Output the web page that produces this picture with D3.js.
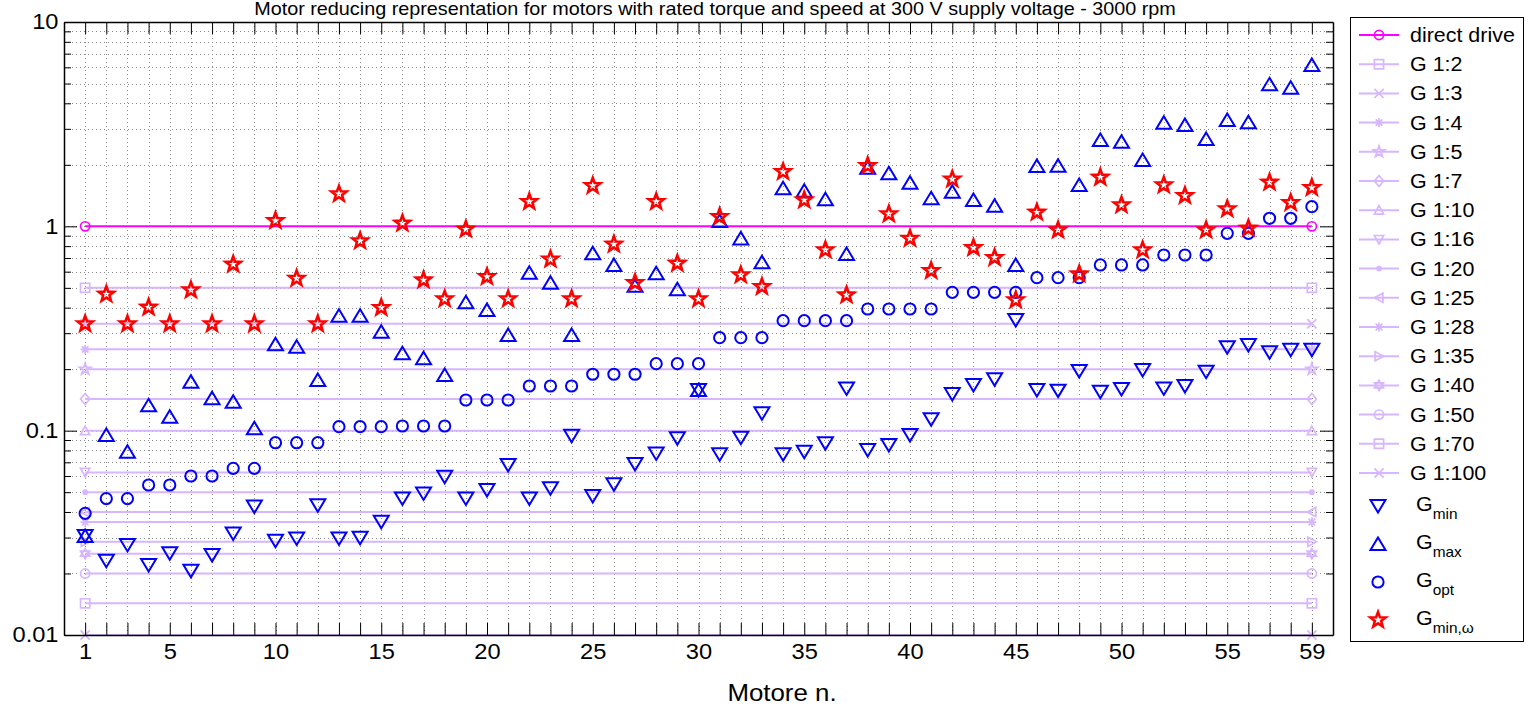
<!DOCTYPE html>
<html>
<head>
<meta charset="utf-8">
<script src="https://cdn.jsdelivr.net/npm/d3@7"></script>
<style>
  html, body { margin: 0; padding: 0; background: #fff; }
  svg { display: block; font-family: "Liberation Sans", Arial, Helvetica, sans-serif; }
</style>
</head>
<body>
<svg id="chart" width="1534" height="708"></svg>
<script>
// ---- data -------------------------------------------------------------
const motors = [1,2,3,4,5,6,7,8,9,10,11,12,13,14,15,16,17,18,19,20,
  21,22,23,24,25,26,27,28,29,30,31,32,33,34,35,36,37,38,39,40,
  41,42,43,44,45,46,47,48,49,50,51,52,53,54,55,56,57,58,59];

// reduction ratios drawn as horizontal reference lines (value = 1/ratio)
const gearRatios = [1, 2, 3, 4, 5, 7, 10, 16, 20, 25, 28, 35, 40, 50, 70, 100];
const gearLabels = ["direct drive", "G 1:2", "G 1:3", "G 1:4", "G 1:5", "G 1:7", "G 1:10",
  "G 1:16", "G 1:20", "G 1:25", "G 1:28", "G 1:35", "G 1:40", "G 1:50", "G 1:70", "G 1:100"];
const gearMarkers = ["circle", "square", "x", "asterisk", "pentagram", "diamond", "triUp",
  "triDown", "point", "triLeft", "asterisk", "triRight", "hexagram", "circle", "square", "x"];
const gearSpan = [1, 59];

const gMin = [0.0305,0.0231,0.0276,0.0220,0.0251,0.0206,0.0246,0.0314,0.0425,0.0289,
  0.0297,0.0431,0.0297,0.0299,0.0358,0.0466,0.0493,0.0595,0.0466,0.0512,
  0.0679,0.0466,0.0522,0.0945,0.0479,0.0546,0.0687,0.0774,0.0917,0.158,
  0.0766,0.0924,0.1216,0.0767,0.0789,0.0867,0.161,0.0804,0.0851,0.0953,
  0.1136,0.1512,0.1674,0.1783,0.348,0.158,0.157,0.196,0.155,0.160,
  0.198,0.161,0.1654,0.1944,0.2558,0.2626,0.2417,0.2487,0.2487];

const gMax = [0.0305,0.0953,0.0789,0.133,0.117,0.1737,0.144,0.1386,0.1027,0.2646,
  0.2576,0.177,0.365,0.365,0.305,0.2391,0.226,0.1873,0.4247,0.3895,
  0.2938,0.593,0.530,0.2938,0.738,0.647,0.5124,0.589,0.492,0.158,
  1.062,0.873,0.667,1.535,1.495,1.356,0.732,1.936,1.817,1.636,
  1.371,1.478,1.345,1.262,0.647,1.973,1.98,1.593,2.645,2.596,
  2.112,3.216,3.133,2.676,3.314,3.23,4.953,4.77,6.16];

const gOpt = [0.0394,0.0465,0.0465,0.0542,0.0542,0.060,0.060,0.0654,0.0654,0.0873,
  0.0873,0.0873,0.1046,0.1046,0.1046,0.1054,0.1054,0.1054,0.1413,0.1413,
  0.1413,0.1654,0.1654,0.1654,0.1888,0.1888,0.1888,0.2128,0.2128,0.2128,
  0.2851,0.2851,0.2851,0.3455,0.3455,0.3455,0.3455,0.394,0.394,0.394,
  0.394,0.4754,0.4754,0.4754,0.4754,0.5605,0.5605,0.5605,0.647,0.647,
  0.647,0.724,0.724,0.724,0.924,0.924,1.095,1.095,1.248];

const gMinOmega = [0.333,0.465,0.333,0.4015,0.333,0.488,0.333,0.652,0.333,1.066,
  0.556,0.333,1.44,0.848,0.40,1.035,0.546,0.441,0.967,0.567,
  0.441,1.32,0.69,0.441,1.58,0.817,0.530,1.32,0.659,0.441,
  1.115,0.578,0.507,1.85,1.345,0.766,0.461,1.98,1.149,0.873,
  0.607,1.70,0.786,0.703,0.436,1.171,0.959,0.584,1.737,1.272,
  0.766,1.593,1.413,0.959,1.216,0.978,1.642,1.305,1.546];

const xTickLabels = [1, 5, 10, 15, 20, 25, 30, 35, 40, 45, 50, 55, 59];
const yMajorTicks = [0.01, 0.1, 1, 10];
const yTickLabels = ["0.01", "0.1", "1", "10"];

const titleText = "Motor reducing representation for motors with rated torque and speed at 300 V supply voltage - 3000 rpm";
const xAxisTitle = "Motore n.";

// ---- layout -----------------------------------------------------------
const plot = { left: 64, right: 1333, top: 22, bottom: 635 };
const FONT = 19.5;            // legend text
const AXIS_FONT = 21.5;       // tick labels
const LABEL_FONT = 23.5;      // axis label
const STRETCH = 1.1;          // horizontal text stretch
const LINE_COLOR = "#d7b6ff";
const DIRECT_COLOR = "#ff00ff";
const BLUE = "#0000ff";
const RED = "#ff0000";

const svg = d3.select("#chart");
svg.append("rect").attr("width", 1534).attr("height", 708).attr("fill", "#fff");

const x = d3.scaleLinear().domain([0, 60]).range([plot.left, plot.right]);
const y = d3.scaleLog().domain([0.01, 10]).range([plot.bottom, plot.top]);

// minor tick values of the log axis (2..9 of each decade)
const yMinor = [];
[0.01, 0.1, 1].forEach(d => { for (let m = 2; m <= 9; m++) yMinor.push(+(d * m).toPrecision(3)); });

// text placed at (px, py) and stretched horizontally around its anchor
function stretchedText(parent, px, py, anchor) {
  return parent.append("g").attr("transform", `translate(${px},${py}) scale(${STRETCH},1)`)
    .append("text").attr("text-anchor", anchor || "start")
    .attr("font-size", FONT).attr("fill", "#000");
}

// ---- marker shapes ----------------------------------------------------
function starPoints(n, ro, ri, rot) {
  const pts = [];
  for (let i = 0; i < 2 * n; i++) {
    const r = i % 2 === 0 ? ro : ri;
    const a = rot + i * Math.PI / n;
    pts.push([r * Math.sin(a), -r * Math.cos(a)]);
  }
  return "M" + pts.map(p => p[0].toFixed(2) + "," + p[1].toFixed(2)).join("L") + "Z";
}
function markerPath(type, s) {
  switch (type) {
    case "circle": return `M${s},0A${s},${s} 0 1,1 ${-s},0A${s},${s} 0 1,1 ${s},0Z`;
    case "square": return `M${-s},${-s}H${s}V${s}H${-s}Z`;
    case "x": return `M${-s},${-s}L${s},${s}M${-s},${s}L${s},${-s}`;
    case "asterisk": {
      const d = s * 0.72;
      return `M0,${-s}V${s}M${-s},0H${s}M${-d},${-d}L${d},${d}M${-d},${d}L${d},${-d}`;
    }
    case "pentagram": return starPoints(5, s * 1.3, s * 0.5, 0);
    case "diamond": return `M0,${-s * 1.2}L${s},0L0,${s * 1.2}L${-s},0Z`;
    case "triUp": return `M0,${-s}L${s},${s * 0.85}L${-s},${s * 0.85}Z`;
    case "triDown": return `M0,${s}L${s},${-s * 0.85}L${-s},${-s * 0.85}Z`;
    case "triLeft": return `M${-s},0L${s * 0.85},${-s}L${s * 0.85},${s}Z`;
    case "triRight": return `M${s},0L${-s * 0.85},${-s}L${-s * 0.85},${s}Z`;
    case "hexagram": return `M0,${-s * 1.1}L${s},${s * 0.55}L${-s},${s * 0.55}Z` +
                            `M0,${s * 1.1}L${s},${-s * 0.55}L${-s},${-s * 0.55}Z`;
    case "point": return `M${s * 0.45},0A${s * 0.45},${s * 0.45} 0 1,1 ${-s * 0.45},0A${s * 0.45},${s * 0.45} 0 1,1 ${s * 0.45},0Z`;
  }
  return "";
}
// big scatter markers
const bigTriUp = `M0,-6.5L7.5,6L-7.5,6Z`;
const bigTriDown = `M0,6.5L7.5,-6L-7.5,-6Z`;
const bigCircle = markerPath("circle", 5.6);
const bigStar = starPoints(5, 8, 3.3, 0);

// ---- grid -------------------------------------------------------------
const grid = svg.append("g").attr("class", "grid")
  .attr("stroke", "#8a8a8a").attr("stroke-width", 1).attr("stroke-dasharray", "1,3");
grid.selectAll("line.v").data(motors).join("line").attr("class", "v")
  .attr("x1", d => Math.round(x(d)) + 0.5).attr("x2", d => Math.round(x(d)) + 0.5)
  .attr("y1", plot.top).attr("y2", plot.bottom);
grid.selectAll("line.h").data(yMinor.concat(yMajorTicks)).join("line").attr("class", "h")
  .attr("x1", plot.left).attr("x2", plot.right)
  .attr("y1", d => Math.round(y(d)) + 0.5).attr("y2", d => Math.round(y(d)) + 0.5);

// ---- gear reference lines ----------------------------------------------
const gears = gearRatios.map((r, i) => ({
  value: 1 / r, label: gearLabels[i], marker: gearMarkers[i],
  color: i === 0 ? DIRECT_COLOR : LINE_COLOR
}));
const lineGen = d3.line().x(d => x(d[0])).y(d => y(d[1]));
const gearG = svg.append("g").attr("class", "gears");
gears.forEach(g => {
  const pts = gearSpan.map(m => [m, g.value]);
  gearG.append("path").attr("d", lineGen(pts))
    .attr("fill", "none").attr("stroke", g.color).attr("stroke-width", 2);
  gearG.selectAll(null).data(pts).join("path")
    .attr("transform", d => `translate(${x(d[0])},${y(d[1])})`)
    .attr("d", markerPath(g.marker, 4.6))
    .attr("fill", g.marker === "point" ? g.color : "none")
    .attr("stroke", g.color).attr("stroke-width", 1.7);
});

// ---- scatter series ----------------------------------------------------
function scatter(values, shape, color, width) {
  svg.append("g").selectAll("path").data(values).join("path")
    .attr("transform", (d, i) => `translate(${x(motors[i])},${y(d)})`)
    .attr("d", shape).attr("fill", "none")
    .attr("stroke", color).attr("stroke-width", width).attr("stroke-linejoin", "miter");
}
scatter(gMin, bigTriDown, BLUE, 2);
scatter(gMax, bigTriUp, BLUE, 2);
scatter(gOpt, bigCircle, BLUE, 2);
scatter(gMinOmega, bigStar, RED, 2.6);

// ---- axes -------------------------------------------------------------
function styleAxis(g) {
  g.selectAll("path.domain").attr("stroke", "#000").attr("stroke-width", 1.5);
  g.selectAll(".tick line").attr("stroke", "#000").attr("stroke-width", 1);
  g.selectAll(".tick text").attr("fill", "#000").attr("font-size", AXIS_FONT)
    .attr("font-family", "'Liberation Sans', Arial, sans-serif")
    .attr("transform", `scale(${STRETCH},1)`);
}
svg.append("g").attr("transform", `translate(0,${plot.bottom})`)
  .call(d3.axisBottom(x).tickValues(motors).tickSize(-12).tickSizeOuter(0).tickPadding(9)
    .tickFormat(d => xTickLabels.includes(d) ? d : ""))
  .call(styleAxis);
svg.append("g").attr("transform", `translate(0,${plot.top})`)
  .call(d3.axisTop(x).tickValues(motors).tickSize(-12).tickSizeOuter(0).tickFormat(""))
  .call(styleAxis);
svg.append("g").attr("transform", `translate(${plot.left},0)`)
  .call(d3.axisLeft(y).tickValues(yMajorTicks).tickSize(-13).tickSizeOuter(0).tickPadding(5)
    .tickFormat((d, i) => yTickLabels[i]))
  .call(styleAxis);
svg.append("g").attr("transform", `translate(${plot.left},0)`)
  .call(d3.axisLeft(y).tickValues(yMinor).tickSize(-7).tickSizeOuter(0).tickFormat(""))
  .call(styleAxis).call(g => g.select(".domain").remove());
svg.append("g").attr("transform", `translate(${plot.right},0)`)
  .call(d3.axisRight(y).tickValues(yMajorTicks).tickSize(-13).tickSizeOuter(0).tickFormat(""))
  .call(styleAxis);
svg.append("g").attr("transform", `translate(${plot.right},0)`)
  .call(d3.axisRight(y).tickValues(yMinor).tickSize(-7).tickSizeOuter(0).tickFormat(""))
  .call(styleAxis).call(g => g.select(".domain").remove());

// ---- titles ------------------------------------------------------------
stretchedText(svg, 715, 15, "middle").attr("font-size", 18).text(titleText);
stretchedText(svg, 782, 701, "middle").attr("font-size", LABEL_FONT).text(xAxisTitle);

// ---- legend ------------------------------------------------------------
const legend = svg.append("g").attr("class", "legend");
legend.append("rect").attr("x", 1350.5).attr("y", 17.5).attr("width", 173).attr("height", 624)
  .attr("fill", "#fff").attr("stroke", "#000").attr("stroke-width", 1);
gears.forEach((g, i) => {
  const ly = 35 + i * 29.2;
  const row = legend.append("g").attr("transform", `translate(0,${ly})`);
  row.append("line").attr("x1", 1359).attr("x2", 1399).attr("y1", 0).attr("y2", 0)
    .attr("stroke", g.color).attr("stroke-width", 2);
  row.append("path").attr("transform", "translate(1379,0)").attr("d", markerPath(g.marker, 4.6))
    .attr("fill", g.marker === "point" ? g.color : "none")
    .attr("stroke", g.color).attr("stroke-width", 1.7);
  stretchedText(row, 1410, 0).attr("dy", "0.36em").text(g.label);
});
const scatterLegend = [
  { shape: bigTriDown, color: BLUE, w: 2, sub: "min" },
  { shape: bigTriUp, color: BLUE, w: 2, sub: "max" },
  { shape: bigCircle, color: BLUE, w: 2, sub: "opt" },
  { shape: bigStar, color: RED, w: 2.6, sub: "min,\u03c9" }
];
scatterLegend.forEach((s, i) => {
  const ly = 506 + i * 38;
  const row = legend.append("g").attr("transform", `translate(0,${ly})`);
  row.append("path").attr("transform", "translate(1378,0)").attr("d", s.shape)
    .attr("fill", "none").attr("stroke", s.color).attr("stroke-width", s.w);
  const t = stretchedText(row, 1416, 5);
  t.append("tspan").text("G");
  t.append("tspan").attr("dy", 8).attr("font-size", 14).text(s.sub);
});
</script>
</body>
</html>
